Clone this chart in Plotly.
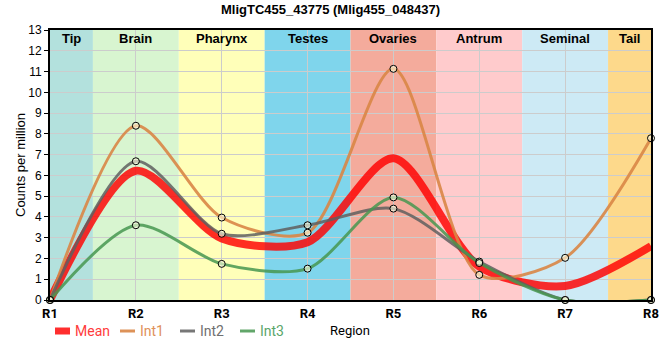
import plotly.graph_objects as go

regions = ["R1", "R2", "R3", "R4", "R5", "R6", "R7", "R8"]
int1 = [0, 8.39, 3.97, 3.24, 11.13, 1.21, 2.03, 7.79]
int2 = [0, 6.68, 3.19, 3.6, 4.40, 1.85, 0, 0]
int3 = [0, 3.6, 1.74, 1.51, 4.94, 1.78, 0, 0]
mean = [round((a + b + c) / 3, 3) for a, b, c in zip(int1, int2, int3)]

band_names = ["Tip", "Brain", "Pharynx", "Testes", "Ovaries", "Antrum", "Seminal", "Tail"]
band_start = [0, 0.5, 1.5, 2.5, 3.5, 4.5, 5.5, 6.5]
band_end = [0.5, 1.5, 2.5, 3.5, 4.5, 5.5, 6.5, 7]
band_colors = ["#b3e1dd", "#d8f5d0", "#ffffb9", "#7fd5ec", "#f4ab9c", "#ffcbcc", "#cdeaf5", "#fdd98b"]

xs = list(range(len(regions)))

# plot area geometry (pixels)
L, R, T, B = 50, 651, 30, 300
W, H = 660, 360


def px(xp):
    return (xp - L) / (R - L)


def py(yp):
    return (B - yp) / (B - T)


fig = go.Figure()

series = [
    ("Mean", mean, "rgba(255,0,0,0.82)", 8, "#ff3b3b"),
    ("Int1", int1, "rgba(217,134,70,0.9)", 3, "#e0915a"),
    ("Int2", int2, "rgba(95,95,95,0.85)", 3, "#707070"),
    ("Int3", int3, "rgba(70,150,80,0.85)", 3, "#5aa66a"),
]

for name, vals, col, w, tcol in series:
    fig.add_trace(go.Scatter(
        x=xs, y=vals, mode="lines", name=name, showlegend=False,
        line=dict(color=col, width=w, shape="spline", smoothing=0.8),
        hoverinfo="skip",
    ))

for name, vals, col, w, tcol in series[1:]:
    fig.add_trace(go.Scatter(
        x=xs, y=vals, mode="markers", showlegend=False,
        marker=dict(size=7, color="rgba(255,255,225,0.6)",
                    line=dict(color="black", width=1)),
        cliponaxis=False, hoverinfo="skip",
    ))

for name, x0, x1, c in zip(band_names, band_start, band_end, band_colors):
    fig.add_shape(type="rect", xref="x", yref="y", x0=x0, x1=x1, y0=0, y1=13,
                  fillcolor=c, line=dict(width=0), layer="below")
    fig.add_annotation(x=(x0 + x1) / 2, y=12.6, xref="x", yref="y", text="<b>%s</b>" % name,
                       showarrow=False, font=dict(size=13, color="black",
                                                  family="Liberation Sans, Arial"))

# manual legend
leg_sym_x = [55, 120, 180, 240]
leg_y = 331
for (name, vals, col, w, tcol), sx in zip(series, leg_sym_x):
    if name == "Mean":
        fig.add_shape(type="rect", xref="paper", yref="paper",
                      x0=px(sx), x1=px(sx + 15), y0=py(leg_y + 3.5), y1=py(leg_y - 3.5),
                      fillcolor="rgba(255,0,0,0.82)", line=dict(width=0))
    else:
        fig.add_shape(type="line", xref="paper", yref="paper",
                      x0=px(sx), x1=px(sx + 15), y0=py(leg_y), y1=py(leg_y),
                      line=dict(color=col, width=3))
    fig.add_annotation(x=px(sx + 18), y=py(leg_y), xref="paper", yref="paper",
                       xanchor="left", yanchor="middle", text=name, showarrow=False,
                       font=dict(size=14, color=tcol, family="Roboto"))

fig.add_annotation(x=px(350), y=py(331), xref="paper", yref="paper", xanchor="center",
                   yanchor="middle", text="Region", showarrow=False,
                   font=dict(size=13, color="black", family="Roboto"))

fig.add_annotation(x=px(20), y=py(165), xref="paper", yref="paper", xanchor="center",
                   yanchor="middle", text="Counts per million", showarrow=False,
                   textangle=-90,
                   font=dict(size=13, color="black", family="Liberation Sans, Arial"))

fig.add_annotation(x=px(330), y=py(9), xref="paper", yref="paper", xanchor="center",
                   yanchor="middle", text="<b>MligTC455_43775 (Mlig455_048437)</b>",
                   showarrow=False,
                   font=dict(size=13, color="black", family="Liberation Sans, Arial"))

fig.update_layout(
    width=W, height=H,
    margin=dict(l=L, r=W - R, t=T, b=H - B, autoexpand=False),
    plot_bgcolor="white", paper_bgcolor="white",
    showlegend=False,
    xaxis=dict(
        tickmode="array", tickvals=xs, ticktext=["<b>%s</b>" % r for r in regions],
        range=[0, 7], showgrid=True, gridcolor="#cccccc", gridwidth=1,
        showline=True, linecolor="black", linewidth=2, mirror=True,
        tickfont=dict(size=13, color="black", family="Roboto"), ticks="",
        zeroline=False, automargin=False,
    ),
    yaxis=dict(
        range=[0, 13], tickmode="linear", dtick=1, showgrid=True, gridcolor="#cccccc",
        gridwidth=1, showline=True, linecolor="black", linewidth=2, mirror=True,
        ticks="outside", ticklen=4, tickcolor="black",
        tickfont=dict(size=12, color="black", family="Liberation Sans, Arial"),
        zeroline=False, automargin=False,
    ),
)

fig.write_html("out.html", config={"displayModeBar": False, "staticPlot": True},
               post_script="document.body.style.margin='0';document.body.style.padding='0';")
